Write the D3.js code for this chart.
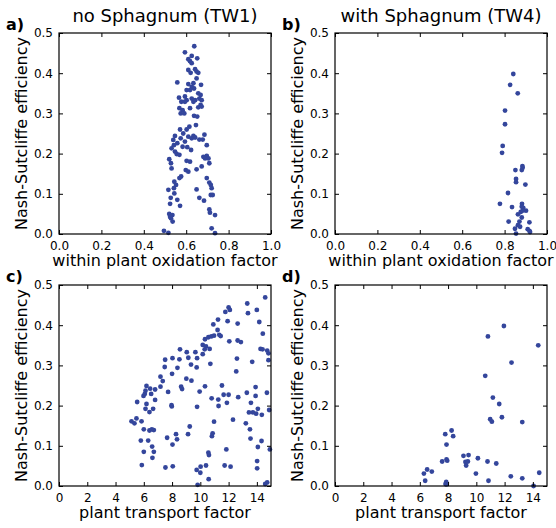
<!DOCTYPE html>
<html><head><meta charset="utf-8">
<script src="https://cdn.jsdelivr.net/npm/d3@7"></script>
<style>
body{margin:0;background:#fff;}
svg{display:block;font-family:"DejaVu Sans",sans-serif;}
</style></head>
<body>
<script>
// ---- data ----
const titles = ["no Sphagnum (TW1)", "with Sphagnum (TW4)"];
const panelLabels = ["a)", "b)", "c)", "d)"];
const yLabel = "Nash-Sutcliffe efficiency";
const xLabelTop = "within plant oxidation factor";
const xLabelBottom = "plant transport factor";
const yTicks = [0.0, 0.1, 0.2, 0.3, 0.4, 0.5];
const xTicksTop = [0.0, 0.2, 0.4, 0.6, 0.8, 1.0];
const xTicksBottom = [0, 2, 4, 6, 8, 10, 12, 14];

// a) TW1 oxidation factor vs NSE
const panelA = [
[0.638,0.467],[0.594,0.452],[0.626,0.443],[0.610,0.435],[0.618,0.430],[0.652,0.437],[0.626,0.425],
[0.642,0.410],[0.649,0.404],[0.610,0.408],[0.621,0.401],[0.657,0.401],[0.649,0.387],[0.558,0.377],
[0.610,0.373],[0.634,0.375],[0.670,0.371],[0.626,0.366],[0.637,0.362],[0.618,0.358],[0.602,0.358],
[0.657,0.350],[0.668,0.346],[0.594,0.342],[0.566,0.339],[0.602,0.333],[0.626,0.337],[0.642,0.333],
[0.662,0.337],[0.673,0.333],[0.577,0.329],[0.594,0.329],[0.634,0.329],[0.668,0.321],[0.568,0.313],
[0.583,0.308],[0.618,0.313],[0.673,0.317],[0.657,0.315],[0.574,0.300],[0.591,0.300],[0.637,0.294],
[0.652,0.292],[0.646,0.271],[0.571,0.260],[0.615,0.267],[0.602,0.260],[0.586,0.250],[0.547,0.244],
[0.634,0.244],[0.686,0.247],[0.539,0.234],[0.574,0.238],[0.610,0.242],[0.626,0.238],[0.642,0.240],
[0.662,0.235],[0.678,0.235],[0.558,0.226],[0.594,0.230],[0.542,0.221],[0.583,0.217],[0.605,0.216],
[0.697,0.221],[0.531,0.213],[0.547,0.205],[0.555,0.199],[0.568,0.197],[0.623,0.209],[0.681,0.192],
[0.697,0.194],[0.705,0.188],[0.689,0.188],[0.520,0.186],[0.602,0.182],[0.618,0.180],[0.709,0.176],
[0.528,0.176],[0.673,0.168],[0.649,0.161],[0.531,0.163],[0.598,0.159],[0.610,0.155],[0.576,0.143],
[0.568,0.139],[0.697,0.139],[0.544,0.130],[0.709,0.128],[0.716,0.122],[0.552,0.122],[0.720,0.114],
[0.542,0.114],[0.516,0.110],[0.649,0.111],[0.716,0.097],[0.725,0.097],[0.544,0.101],[0.527,0.090],
[0.662,0.090],[0.558,0.085],[0.684,0.083],[0.524,0.075],[0.571,0.070],[0.709,0.061],[0.520,0.050],
[0.535,0.047],[0.528,0.039],[0.736,0.047],[0.712,0.053],[0.524,0.043],[0.536,0.031],[0.495,0.008],
[0.516,0.003],[0.720,0.014],[0.736,0.002]
];

// b) TW4 oxidation factor vs NSE
const panelB = [
[0.841,0.398],[0.826,0.371],[0.862,0.350],[0.802,0.307],[0.802,0.273],[0.791,0.219],[0.788,0.202],
[0.884,0.169],[0.885,0.165],[0.881,0.159],[0.851,0.159],[0.854,0.137],[0.854,0.129],[0.898,0.123],
[0.816,0.102],[0.778,0.075],[0.835,0.067],[0.882,0.075],[0.881,0.068],[0.888,0.065],[0.901,0.058],
[0.876,0.055],[0.885,0.058],[0.863,0.049],[0.881,0.041],[0.819,0.031],[0.870,0.031],[0.917,0.029],
[0.863,0.022],[0.873,0.018],[0.849,0.013],[0.909,0.012],[0.917,0.008],[0.920,0.005],[0.854,0.001]
];

// c) TW1 plant transport factor vs NSE
const panelC = [
[8.03,0.318],[7.51,0.314],[7.48,0.296],[8.38,0.294],[7.18,0.272],[7.34,0.261],[8.00,0.279],
[7.18,0.247],[6.19,0.249],[6.12,0.237],[6.45,0.242],[6.80,0.240],[6.52,0.229],[5.98,0.224],
[6.07,0.229],[7.72,0.234],[6.80,0.214],[5.53,0.209],[6.19,0.204],[6.12,0.192],[6.66,0.192],
[6.40,0.184],[7.98,0.198],[7.96,0.201],[5.48,0.168],[5.13,0.161],[5.34,0.156],[5.84,0.161],
[6.00,0.141],[6.40,0.138],[6.57,0.141],[6.71,0.139],[7.65,0.120],[8.28,0.129],[8.35,0.116],
[5.79,0.113],[6.31,0.113],[8.03,0.103],[6.59,0.098],[6.00,0.085],[6.71,0.085],[6.61,0.070],
[5.86,0.052],[7.53,0.046],[8.05,0.049],
[14.59,0.469],[12.00,0.444],[12.09,0.438],[11.77,0.433],[13.32,0.454],[13.37,0.430],[14.00,0.438],
[11.25,0.414],[11.93,0.410],[10.92,0.402],[12.64,0.404],[14.17,0.408],[11.22,0.388],[11.44,0.373],
[11.34,0.376],[10.97,0.374],[10.78,0.372],[10.57,0.370],[10.33,0.365],[12.05,0.360],[12.64,0.362],
[12.87,0.358],[14.42,0.379],[10.17,0.351],[10.40,0.347],[10.66,0.341],[10.31,0.340],[14.26,0.341],
[14.40,0.340],[14.73,0.337],[14.82,0.330],[9.04,0.333],[9.65,0.333],[10.17,0.328],[8.56,0.340],
[8.52,0.315],[9.15,0.319],[9.77,0.318],[12.59,0.317],[14.82,0.313],[13.67,0.309],[9.34,0.302],
[9.74,0.295],[10.71,0.304],[12.54,0.285],[9.01,0.267],[9.37,0.262],[8.64,0.247],[8.71,0.241],
[10.33,0.248],[11.53,0.250],[13.91,0.246],[9.95,0.235],[14.71,0.232],[11.65,0.227],[12.00,0.227],
[13.29,0.232],[13.91,0.224],[10.80,0.218],[11.27,0.215],[11.88,0.207],[12.68,0.221],[13.58,0.207],
[11.29,0.199],[9.77,0.197],[14.87,0.189],[14.07,0.192],[13.44,0.183],[13.72,0.183],[13.95,0.180],
[14.35,0.177],[12.31,0.165],[10.97,0.160],[13.22,0.156],[13.51,0.141],[9.25,0.148],[9.13,0.129],
[10.87,0.131],[10.82,0.124],[13.55,0.118],[14.33,0.112],[14.07,0.097],[11.84,0.091],[14.92,0.091],
[10.57,0.083],[10.61,0.077],[14.02,0.062],[10.40,0.051],[10.02,0.048],[11.72,0.051],[12.14,0.048],
[14.02,0.044],[9.74,0.040],[10.00,0.033],[10.59,0.017],[9.81,0.003],[14.73,0.009],[14.59,0.005]
];

// d) TW4 plant transport factor vs NSE
const panelD = [
[11.95,0.398],[10.82,0.372],[14.38,0.350],[12.49,0.307],[10.63,0.274],[11.17,0.220],[11.62,0.204],
[10.98,0.166],[11.10,0.160],[11.81,0.171],[13.25,0.159],[8.25,0.138],[7.80,0.129],[8.36,0.124],
[7.89,0.103],[9.09,0.075],[9.45,0.077],[7.58,0.061],[7.89,0.066],[7.94,0.063],[9.23,0.060],
[9.40,0.061],[9.28,0.051],[10.11,0.069],[10.79,0.061],[11.41,0.056],[6.52,0.041],[6.85,0.036],
[6.29,0.031],[6.38,0.013],[9.97,0.031],[10.86,0.013],[12.44,0.024],[13.25,0.019],[14.45,0.033],
[7.87,0.010],[7.82,0.005],[7.89,0.004],[14.05,0.000]
];

// ---- drawing ----
const W = 556, H = 528;
const svg = d3.select("body").append("svg").attr("width", W).attr("height", H);
const dotColor = "#34469c";
const pw = 212, ph = 201;
const cols = [59, 335], rows = [33, 285];

const panels = [
  {data: panelA, col: 0, row: 0, xd: [0, 1], xt: xTicksTop, xf: d3.format(".1f"), xl: xLabelTop},
  {data: panelB, col: 1, row: 0, xd: [0, 1], xt: xTicksTop, xf: d3.format(".1f"), xl: xLabelTop},
  {data: panelC, col: 0, row: 1, xd: [0, 15], xt: xTicksBottom, xf: d3.format("d"), xl: xLabelBottom},
  {data: panelD, col: 1, row: 1, xd: [0, 15], xt: xTicksBottom, xf: d3.format("d"), xl: xLabelBottom}
];

panels.forEach((p, i) => {
  const x0 = cols[p.col], y0 = rows[p.row];
  const g = svg.append("g").attr("transform", `translate(${x0},${y0})`);
  const x = d3.scaleLinear().domain(p.xd).range([0, pw]);
  const y = d3.scaleLinear().domain([0, 0.5]).range([ph, 0]);

  // points
  g.append("g").selectAll("circle").data(p.data).join("circle")
    .attr("cx", d => x(d[0])).attr("cy", d => y(d[1])).attr("r", 2.4)
    .attr("fill", dotColor);

  const style = (sel) => {
    sel.select(".domain").remove();
    sel.selectAll(".tick line").attr("stroke", "#000").attr("stroke-width", 1);
    sel.selectAll(".tick text").attr("fill", "#000").style("font-size", "12px")
      .style("font-family", "DejaVu Sans");
  };
  // bottom axis (inward ticks)
  g.append("g").attr("transform", `translate(0,${ph})`)
    .call(d3.axisBottom(x).tickValues(p.xt).tickFormat(p.xf).tickSizeInner(-4).tickSizeOuter(0).tickPadding(7))
    .call(style);
  // top axis
  g.append("g")
    .call(d3.axisTop(x).tickValues(p.xt).tickFormat("").tickSizeInner(-4).tickSizeOuter(0))
    .call(style);
  // left axis
  g.append("g")
    .call(d3.axisLeft(y).tickValues(yTicks).tickFormat(d3.format(".1f")).tickSizeInner(-4).tickSizeOuter(0).tickPadding(6))
    .call(style);
  // right axis
  g.append("g").attr("transform", `translate(${pw},0)`)
    .call(d3.axisRight(y).tickValues(yTicks).tickFormat("").tickSizeInner(-4).tickSizeOuter(0))
    .call(style);

  // frame
  g.append("rect").attr("width", pw).attr("height", ph)
    .attr("fill", "none").attr("stroke", "#000").attr("stroke-width", 1.2);

  // x label
  g.append("text").attr("x", pw / 2).attr("y", ph + 32).attr("text-anchor", "middle")
    .style("font-size", "16px").text(p.xl);
  // y label
  g.append("text").attr("transform", `translate(${-32},${ph / 2}) rotate(-90)`)
    .attr("text-anchor", "middle").style("font-size", "16px").text(yLabel);
  // panel label
  g.append("text").attr("x", -53).attr("y", -3)
    .style("font-size", "16px").style("font-weight", "bold").text(panelLabels[i]);
  // title
  if (p.row === 0) {
    g.append("text").attr("x", pw / 2).attr("y", -11).attr("text-anchor", "middle")
      .style("font-size", "18px").text(titles[p.col]);
  }
});
</script>
</body></html>
